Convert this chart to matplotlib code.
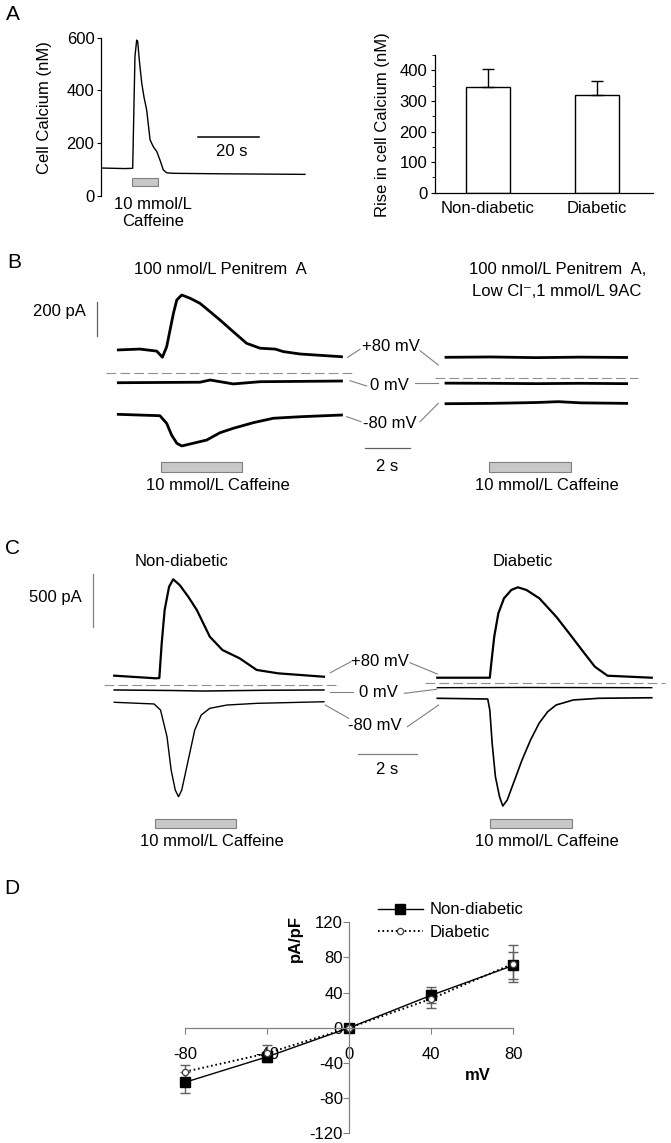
import matplotlib
matplotlib.use('Agg')
import matplotlib.pyplot as plt
from matplotlib.patches import Rectangle
from matplotlib.ticker import FixedLocator

plt.rcParams['font.family'] = ['Liberation Sans', 'DejaVu Sans']
plt.rcParams['font.size'] = 12
plt.rcParams['lines.scale_dashes'] = False
plt.rcParams['axes.unicode_minus'] = False

# ===================== DATA =====================
# Panel A (left): cell calcium trace (time s, nM)
A_T = [0, 7.6, 10.06, 10.8, 11.36, 11.7, 12.2, 13.0, 13.7, 14.6, 15.7, 16.75, 17.9, 18.9, 20.0, 21.1, 23.2, 40, 66]
A_CA = [106, 104, 105, 529, 591, 585, 516, 428, 377, 326, 213, 187, 168, 137, 99, 88, 86, 84, 82]
A_CAF_ON, A_CAF_DUR = 9.9, 8.5
A_SCALE_S = 20

# Panel A (right): rise in cell calcium
A_GROUPS = ['Non-diabetic', 'Diabetic']
A_RISE = [347, 320]
A_RISE_SEM = [58, 46]

# Panel B: 100 nmol/L Penitrem A (left) and + low Cl-, 9AC (right); time s, current pA
B_L80_T = [0, 0.96, 1.71, 1.96, 2.15, 2.3, 2.45, 2.6, 2.82, 3.19, 3.63, 4.08, 4.52, 5.11, 5.7, 6.3, 6.97, 7.34, 8.08, 9.92]
B_L80_I = [134, 139, 127, 91, 153, 251, 349, 428, 457, 438, 408, 359, 310, 241, 173, 144, 139, 124, 110, 94]
B_L0_T = [0, 3.63, 4.08, 5.11, 6.3, 9.92]
B_L0_I = [-59, -56, -43, -66, -53, -49]
B_LM80_T = [0, 1.85, 2.15, 2.37, 2.6, 2.82, 3.33, 3.93, 4.52, 5.11, 6.0, 6.89, 8.08, 9.92]
B_LM80_I = [-245, -253, -298, -367, -415, -431, -415, -396, -353, -327, -294, -268, -259, -249]
B_R80_T = [0, 2, 4, 6, 8.03]
B_R80_I = [120, 122, 118, 121, 119]
B_R0_T = [0, 2, 4, 6, 8.03]
B_R0_I = [-32, -33, -35, -33, -35]
B_RM80_T = [0, 2, 4, 5, 6, 8.03]
B_RM80_I = [-153, -151, -146, -141, -148, -151]
B_CAF_ON = [1.88, 1.92]
B_CAF_DUR = 3.63
B_SCALE_PA, B_SCALE_S = 200, 2

# Panel C: Non-diabetic (left) and Diabetic (right); time s, current pA
C_L80_T = [0, 1.42, 1.53, 1.61, 1.71, 1.86, 2.0, 2.22, 2.51, 2.8, 3.24, 3.67, 4.25, 4.83, 5.56, 7.11]
C_L80_I = [88, 63, 66, 393, 708, 927, 997, 943, 833, 708, 456, 330, 252, 142, 110, 78]
C_L0_T = [0, 2, 3, 5, 7.11]
C_L0_I = [-47, -52, -57, -50, -47]
C_LM80_T = [0, 1.35, 1.57, 1.79, 1.93, 2.07, 2.18, 2.29, 2.51, 2.73, 2.95, 3.24, 3.82, 4.83, 7.11]
C_LM80_I = [-163, -179, -236, -488, -802, -991, -1054, -991, -708, -425, -283, -220, -189, -173, -158]
C_R80_T = [0, 1.78, 1.83, 1.93, 2.07, 2.26, 2.51, 2.73, 3.02, 3.46, 4.03, 4.47, 4.9, 5.34, 5.77, 7.27]
C_R80_I = [47, 47, 183, 434, 655, 796, 875, 900, 875, 796, 623, 466, 309, 151, 66, 47]
C_R0_T = [0, 3, 7.27]
C_R0_I = [-47, -45, -47]
C_RM80_T = [0, 1.71, 1.78, 1.86, 1.97, 2.11, 2.22, 2.37, 2.58, 2.87, 3.16, 3.45, 3.74, 4.03, 4.61, 5.48, 7.27]
C_RM80_I = [-147, -154, -258, -572, -887, -1076, -1163, -1107, -949, -731, -541, -383, -274, -210, -163, -147, -142]
C_CAF_ON = [1.38, 1.79]
C_CAF_DUR = 2.76
C_SCALE_PA, C_SCALE_S = 500, 2

# Panel D: I-V relation
D_MV = [-80, -40, 0, 40, 80]
D_ND = [-62, -33, 0, 37, 71]
D_ND_ERR = [12, 4, 1.5, 9, 15]
D_DB = [-50, -29, 0, 33, 73]
D_DB_ERR = [8, 10, 1.5, 10, 21]
D_LABELS = ['Non-diabetic', 'Diabetic']

# ===================== LAYOUT =====================
W, H = 671, 1143
fig = plt.figure(figsize=(W / 100, H / 100), dpi=100)

ov = fig.add_axes([0, 0, 1, 1], zorder=-1)
ov.set_xlim(0, W)
ov.set_ylim(H, 0)
ov.axis('off')


def px_axes(x0, y0, x1, y1, **kw):
    return fig.add_axes([x0 / W, 1 - y1 / H, (x1 - x0) / W, (y1 - y0) / H], **kw)


def label(x, y, s, **kw):
    kw.setdefault('ha', 'center')
    kw.setdefault('va', 'center')
    kw.setdefault('fontsize', 12)
    ov.text(x, y, s, **kw)


def connector(p, q):
    ov.plot([p[0], q[0]], [p[1], q[1]], color='#808080', lw=0.8)


def trace_axes(x0, x1, y0, y1, x_origin, y_zero, pxs, pxu):
    ax = px_axes(x0, y0, x1, y1)
    ax.set_xlim((x0 - x_origin) / pxs, (x1 - x_origin) / pxs)
    ax.set_ylim((y_zero - y1) / pxu, (y_zero - y0) / pxu)
    ax.axis('off')
    return ax


GRAYBAR = dict(facecolor='#c8c8c8', edgecolor='#808080', lw=0.8, clip_on=False)
DASH = dict(color='#909090', lw=0.8, dashes=(7, 3), clip_on=False)

# ---------- Panel A left ----------
axA = px_axes(100.7, 37.7, 320, 196)
pxs_A = 3.08
axA.set_xlim((100.7 - 101.7) / pxs_A, (320 - 101.7) / pxs_A)
axA.set_ylim(0, 600)
axA.plot(A_T, A_CA, color='black', lw=1.0)
for s in ['top', 'right', 'bottom']:
    axA.spines[s].set_visible(False)
axA.spines['left'].set_linewidth(0.9)
axA.set_xticks([])
axA.set_yticks([0, 200, 400, 600])
axA.tick_params(axis='y', direction='out', length=3, pad=1.5, labelsize=12)
axA.add_patch(Rectangle((A_CAF_ON, 38), A_CAF_DUR, 29, **GRAYBAR))
axA.plot([31.2, 31.2 + A_SCALE_S], [223, 223], color='black', lw=1.1)
axA.patch.set_visible(False)

label(13, 15, 'A', fontsize=15)
label(45, 108, 'Cell Calcium (nM)', rotation=90)
label(231.7, 152, '%d s' % A_SCALE_S)
label(153, 213, '10 mmol/L\nCaffeine', linespacing=1.1)

# ---------- Panel A right ----------
axR = px_axes(435, 55, 653, 192.7)
axR.set_xlim(-0.486, 1.514)
axR.set_ylim(0, 450)
axR.bar([0, 1], A_RISE, width=0.4, color='white', edgecolor='black', lw=1.0,
        yerr=[[0, 0], A_RISE_SEM], error_kw=dict(ecolor='black', elinewidth=1.0, capsize=4, capthick=1.0))
for s in ['top', 'right']:
    axR.spines[s].set_visible(False)
axR.spines['left'].set_linewidth(0.9)
axR.spines['bottom'].set_linewidth(0.9)
axR.set_xticks([0, 1])
axR.set_xticklabels(A_GROUPS)
axR.yaxis.set_major_locator(FixedLocator([0, 100, 200, 300, 400]))
axR.yaxis.set_minor_locator(FixedLocator([50, 150, 250, 350, 450]))
axR.tick_params(axis='x', length=0, pad=6, labelsize=12)
axR.tick_params(axis='y', which='major', direction='out', length=3, pad=2.5, labelsize=12)
axR.tick_params(axis='y', which='minor', direction='out', length=2)
axR.patch.set_visible(False)
label(383, 125, 'Rise in cell Calcium (nM)', rotation=90)

# ---------- Panel B ----------
pxs_B, pxu_B = 22.5, 0.17
bL = trace_axes(118.3, 341.5, 290, 475, 118.3, 372.7, pxs_B, pxu_B)
bR = trace_axes(446, 626.7, 290, 475, 446, 377.7, pxs_B, pxu_B)
lwB = 2.0
for ax, T, I in [(bL, B_L80_T, B_L80_I), (bL, B_L0_T, B_L0_I), (bL, B_LM80_T, B_LM80_I),
                 (bR, B_R80_T, B_R80_I), (bR, B_R0_T, B_R0_I), (bR, B_RM80_T, B_RM80_I)]:
    ax.plot(T, I, color='black', lw=lwB, clip_on=False, solid_joinstyle='round')
bL.plot([-0.55, 10.48], [0, 0], **DASH)
bR.plot([-0.49, 8.55], [0, 0], **DASH)
bL.add_patch(Rectangle((B_CAF_ON[0], -584), B_CAF_DUR, 57, **GRAYBAR))
bR.add_patch(Rectangle((B_CAF_ON[1], -556), B_CAF_DUR, 59, **GRAYBAR))
# scale bars
bL.plot([-0.96, -0.96], [216, 216 + B_SCALE_PA], color='#606060', lw=0.9, clip_on=False)
bL.plot([10.96, 10.96 + B_SCALE_S], [-445, -445], color='#606060', lw=0.9, clip_on=False)

label(14, 262, 'B', fontsize=15)
label(220.8, 270, '100 nmol/L Penitrem  A')
label(557.2, 270, '100 nmol/L Penitrem  A,')
label(556.7, 291, 'Low Cl\u207b,1 mmol/L 9AC')
label(86, 311.7, '%d pA' % B_SCALE_PA, ha='right')
label(390.5, 346.7, '+80 mV')
label(389.7, 385, '0 mV')
label(390, 424, '-80 mV')
label(386.7, 466.7, '%d s' % B_SCALE_S)
label(217.8, 485, '10 mmol/L Caffeine')
label(547.2, 485.7, '10 mmol/L Caffeine')
connector((347.7, 357.3), (360, 349.3))
connector((420, 350.7), (438.3, 365))
connector((350, 380.7), (366.7, 386))
connector((415, 383.3), (438.3, 383.3))
connector((346.7, 416.7), (361, 421.7))
connector((420, 421.7), (438.3, 403.3))

# ---------- Panel C ----------
pxs_C, pxu_C = 29.5, 0.106
cL = trace_axes(114.2, 323.9, 575, 830, 114.2, 685, pxs_C, pxu_C)
cR = trace_axes(437.3, 651.7, 575, 830, 437.3, 682.7, pxs_C, pxu_C)
for ax, T, I, lw in [(cL, C_L80_T, C_L80_I, 1.6), (cL, C_L0_T, C_L0_I, 1.1), (cL, C_LM80_T, C_LM80_I, 1.0),
                     (cR, C_R80_T, C_R80_I, 1.6), (cR, C_R0_T, C_R0_I, 1.0), (cR, C_RM80_T, C_RM80_I, 1.2)]:
    ax.plot(T, I, color='black', lw=lw, clip_on=False, solid_joinstyle='round')
cL.plot([-0.35, 7.52], [0, 0], **DASH)
cR.plot([-0.42, 7.73], [0, 0], **DASH)
cL.add_patch(Rectangle((C_CAF_ON[0], -1352), C_CAF_DUR, 88, **GRAYBAR))
cR.add_patch(Rectangle((C_CAF_ON[1], -1374), C_CAF_DUR, 88, **GRAYBAR))
cL.plot([-0.72, -0.72], [544, 544 + C_SCALE_PA], color='#808080', lw=0.9, clip_on=False)
cL.plot([8.27, 8.27 + C_SCALE_S], [-651, -651], color='#808080', lw=0.9, clip_on=False)

label(13, 548, 'C', fontsize=15)
label(181.5, 561.7, 'Non-diabetic')
label(522.9, 561.7, 'Diabetic')
label(81.3, 597.3, '%d pA' % C_SCALE_PA, ha='right')
label(380, 661.7, '+80 mV')
label(378.7, 692.3, '0 mV')
label(375.3, 725.7, '-80 mV')
label(387.2, 770, '%d s' % C_SCALE_S)
label(212, 842, '10 mmol/L Caffeine')
label(547, 842, '10 mmol/L Caffeine')
connector((330.3, 672.7), (350.9, 661.7))
connector((409.9, 662.7), (437.3, 674))
connector((329.5, 692.3), (353, 692.3))
connector((404.4, 693.3), (436.5, 689.3))
connector((325.2, 705), (348.7, 718.3))
connector((407.4, 726.7), (438.6, 705))

# ---------- Panel D ----------
axD = px_axes(185, 922.3, 513.3, 1133.3)
axD.set_xlim(-80, 80)
axD.set_ylim(-120, 120)
axD.errorbar(D_MV, D_DB, yerr=D_DB_ERR, fmt='none', ecolor='#606060', elinewidth=1.0,
             capsize=3.5, capthick=1.0, clip_on=False)
axD.errorbar(D_MV, D_ND, yerr=D_ND_ERR, fmt='none', ecolor='#606060', elinewidth=1.0,
             capsize=3.5, capthick=1.0, clip_on=False)
lnd, = axD.plot(D_MV, D_ND, '-', color='black', lw=1.0, marker='s', ms=6.5,
                mfc='black', mec='black', clip_on=False, label=D_LABELS[0])
ldb, = axD.plot(D_MV, D_DB, color='black', lw=1.4, linestyle=(0, (1.2, 2.0)), marker='o', ms=4.5,
                mfc='white', mec='#404040', mew=0.9, clip_on=False, label=D_LABELS[1])
for s in ['top', 'right']:
    axD.spines[s].set_visible(False)
axD.spines['left'].set_position(('data', 0))
axD.spines['bottom'].set_position(('data', 0))
for s in ['left', 'bottom']:
    axD.spines[s].set_color('#808080')
    axD.spines[s].set_linewidth(0.9)
axD.set_xticks([-80, -40, 0, 40, 80])
axD.set_yticks([-120, -80, -40, 0, 40, 80, 120])
axD.tick_params(axis='x', direction='out', length=4, pad=10, color='#808080', labelsize=12)
axD.tick_params(axis='y', direction='out', length=4, pad=0.5, color='#808080', labelsize=12)
axD.patch.set_visible(False)
leg = axD.legend(handles=[lnd, ldb], loc='upper left', bbox_to_anchor=(377.7 / W, 1 - 902.5 / H),
                 bbox_transform=fig.transFigure, frameon=False, borderpad=0, borderaxespad=0,
                 handlelength=2.7, handletextpad=0.4, labelspacing=0.45, numpoints=1, fontsize=12)

label(12, 888, 'D', fontsize=15)
label(295.7, 938.3, 'pA/pF', rotation=90, fontweight='bold')
label(478.3, 1075, 'mV', fontweight='bold')

fig.savefig('out.png', dpi=100)
